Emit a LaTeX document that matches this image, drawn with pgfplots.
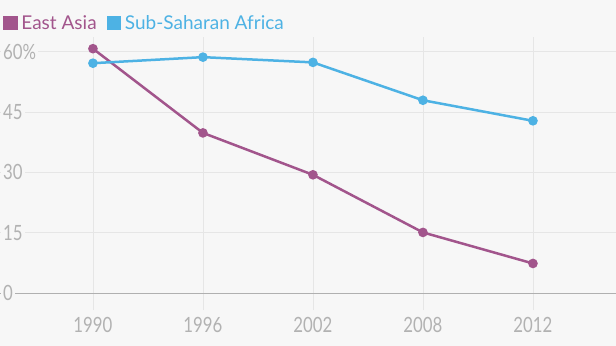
\documentclass[border=0pt]{standalone}
\usepackage{pgfplots}
\pgfplotsset{compat=1.18}
\usepackage{fontspec}
\setmainfont{Lato}
\newfontfamily\tickfont{Lato}[FakeStretch=0.8]
\definecolor{bgc}{HTML}{F7F7F7}
\definecolor{ea}{HTML}{A2558C}
\definecolor{ssa}{HTML}{4DB2E4}
\definecolor{tickc}{HTML}{B2B2B2}
\definecolor{gridc}{HTML}{E6E6E6}
\definecolor{basec}{HTML}{B0B0B0}
\begin{document}
\begin{tikzpicture}
\fill[bgc] (0,-36bp) rectangle (616bp,310bp);
\begin{axis}[
  at={(0,0)}, anchor=south west,
  scale only axis,
  width=616bp, height=273bp,
  xmin=-0.845, xmax=4.755,
  ymin=-4.15, ymax=63.6,
  axis line style={draw=none},
  major tick length=0pt,
  xtick={0,1,2,3,4},
  xticklabels={1990,1996,2002,2008,2012},
  ytick={15,30,45,60},
  yticklabels={15,30,45,60\%},
  extra y ticks={0},
  extra y tick labels={0},
  extra y tick style={grid style={basec, line width=1.2bp}},
  grid=major,
  grid style={gridc, line width=0.8bp},
  tick label style={font=\tickfont\fontsize{21bp}{23bp}\selectfont, text=tickc},
  yticklabel style={anchor=west, xshift=1bp, fill=bgc, inner xsep=2bp},
  xticklabel style={yshift=-4bp},
  legend style={at={(0,1)}, anchor=south west, yshift=2bp, xshift=0bp, draw=none, fill=none,
    font=\fontsize{19bp}{21bp}\selectfont, legend cell align=left},
  legend columns=2,
  /tikz/every even column/.append style={column sep=8bp},
  legend image code/.code={\path[draw=none,fill=none] (0bp,0bp) -- (15bp,0bp); \fill (0bp,-6bp) rectangle (12bp,6bp);},
  clip=false,
]
\addplot[ea, line width=2.5bp, mark=*, mark size=3.5bp] coordinates {
  (0,60.7) (1,39.8) (2,29.4) (3,15.1) (4,7.4)};
\addlegendentry{\textcolor{ea}{East Asia}}
\addplot[ssa, line width=2.5bp, mark=*, mark size=3.5bp] coordinates {
  (0,57.1) (1,58.6) (2,57.3) (3,47.9) (4,42.8)};
\addlegendentry{\textcolor{ssa}{Sub-Saharan Africa}}
\end{axis}
\pgfresetboundingbox
\useasboundingbox (0,-36bp) rectangle (616bp,310bp);
\end{tikzpicture}
\end{document}
